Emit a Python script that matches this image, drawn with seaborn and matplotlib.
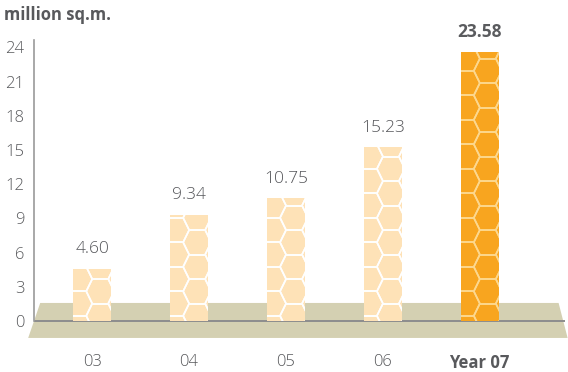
import numpy as np
import pandas as pd
import seaborn as sns
import matplotlib.pyplot as plt
from matplotlib.collections import LineCollection
from matplotlib.patches import Polygon

# Floor space completed, million sq.m.
years = ["03", "04", "05", "06", "07"]
year_labels = ["03", "04", "05", "06", "Year 07"]
area = [4.60, 9.34, 10.75, 15.23, 23.58]
y_ticks = [0, 3, 6, 9, 12, 15, 18, 21, 24]

PEACH = "#FEE2B7"
ORANGE = "#F8A51F"
FLOOR = "#D4D0B2"
TEXT = "#58595c"

sns.set_theme(style="white")
plt.rcParams["font.family"] = ["Open Sans", "DejaVu Sans"]

W, H = 568, 372
fig = plt.figure(figsize=(W / 100, H / 100), dpi=100)
ax = fig.add_axes([34 / W, 32 / H, (565 - 34) / W, 300 / H])

df = pd.DataFrame({"year": years, "area": area})
palette = {y: (ORANGE if i == len(years) - 1 else PEACH) for i, y in enumerate(years)}
sns.barplot(data=df, x="year", y="area", hue="year", palette=palette,
            width=0.39, saturation=1, legend=False, ax=ax, zorder=3,
            edgecolor="none", linewidth=0)

ax.set_xlim(-0.6, 4.88)
ax.set_ylim(-1.67, 24.65)

# ground plane under the columns
floor = Polygon([(-0.536, 1.58), (4.814, 1.58), (4.907, -1.49), (-0.66, -1.49)],
                closed=True, facecolor=FLOOR, edgecolor="none",
                zorder=0.5, clip_on=False)
ax.add_patch(floor)
ax.axhline(0, color="#8d8d8d", lw=1.4, zorder=1)

# honeycomb texture drawn inside each bar (sizes in pixels)
EDGE_HALF = 8.0      # half length of the flat top/bottom edge
SLANT = 6.0          # horizontal run of each slanted edge
HALF_H = 12.25       # half height of a cell
COL_STEP = 2 * EDGE_HALF + SLANT
inv = ax.transData.inverted()


def honeycomb(patch, color):
    x0, y0 = patch.get_x(), patch.get_y()
    w, h = patch.get_width(), patch.get_height()
    px0, py0 = ax.transData.transform((x0, y0))
    px1, py1 = ax.transData.transform((x0 + w, y0 + h))
    base = H - 70.8  # row of horizontal edges, display coordinates
    segs = []
    for j in range(-1, 4):
        cx = px0 + 5 + COL_STEP * j
        shift = 0 if j % 2 == 0 else HALF_H
        k0 = int(np.floor((py0 - base - shift) / (2 * HALF_H))) - 1
        k1 = int(np.ceil((py1 - base - shift) / (2 * HALF_H))) + 1
        for k in range(k0, k1 + 1):
            cy = base + shift + (2 * k + 1) * HALF_H
            vx = cx + np.array([EDGE_HALF + SLANT, EDGE_HALF, -EDGE_HALF,
                                -EDGE_HALF - SLANT, -EDGE_HALF, EDGE_HALF,
                                EDGE_HALF + SLANT])
            vy = cy + np.array([0, HALF_H, HALF_H, 0, -HALF_H, -HALF_H, 0])
            pts = inv.transform(np.column_stack([vx, vy]))
            for a in range(6):
                segs.append([pts[a], pts[a + 1]])
    lc = LineCollection(segs, colors=color, linewidths=1.2, zorder=4)
    ax.add_collection(lc)
    lc.set_clip_path(patch)


for i, p in enumerate(ax.patches):
    if p is floor:
        continue
    honeycomb(p, "#FDD88E" if i == len(years) - 1 else "white")

# value labels
for i, v in enumerate(area):
    last = i == len(area) - 1
    ax.annotate(f"{v:.2f}", (i, v), xytext=(0, 8), textcoords="offset points",
                ha="center", va="bottom", fontsize=12.5,
                fontweight="bold" if last else "light",
                color="#5a5b5e" if last else "#55565a", zorder=5)

ax.set_xticks(range(len(years)))
ax.set_xticklabels(year_labels)
ax.set_yticks(y_ticks)
ax.tick_params(axis="x", length=0, pad=10, labelsize=12, labelcolor=TEXT)
ax.tick_params(axis="y", length=0, pad=7, labelsize=12, labelcolor=TEXT)
for t in ax.get_xticklabels() + ax.get_yticklabels():
    t.set_fontweight("light")
ax.get_xticklabels()[-1].set_fontweight("bold")
ax.set_xlabel("")
ax.set_ylabel("")

for s in ["top", "right", "bottom"]:
    ax.spines[s].set_visible(False)
ax.spines["left"].set_color("#9a9a9a")
ax.spines["left"].set_linewidth(1.2)
ax.spines["left"].set_bounds(0, 24.65)

fig.text(4 / W, 1 - 15 / H, "million sq.m.", fontsize=12, fontweight="bold",
         color=TEXT, ha="left", va="center")

fig.savefig("out.png", dpi=100)
